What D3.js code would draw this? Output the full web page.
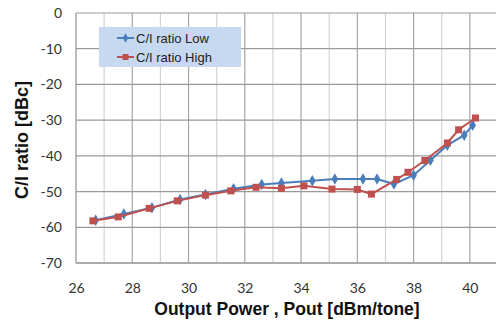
<!DOCTYPE html>
<html>
<head>
<meta charset="utf-8">
<script src="https://cdn.jsdelivr.net/npm/d3@7"></script>
<style>
  html, body { margin: 0; padding: 0; background: #fff; }
  svg { display: block; }
</style>
</head>
<body>
<div id="chart"></div>
<script>
// ── Data ──────────────────────────────────────────────────────────────────
const lowX  = [26.7, 27.7, 28.7, 29.7, 30.6, 31.6, 32.6, 33.3, 34.4, 35.2, 36.2, 36.7, 37.3, 38.0, 38.6, 39.2, 39.8, 40.1]
const lowY  = [-58.0, -56.3, -54.5, -52.2, -50.8, -49.2, -48.0, -47.6, -47.0, -46.5, -46.5, -46.5, -47.9, -45.4, -41.2, -37.0, -34.2, -31.4]
const highX = [26.6, 27.5, 28.6, 29.6, 30.6, 31.5, 32.4, 33.3, 34.1, 35.1, 36.0, 36.5, 37.4, 37.8, 38.4, 39.2, 39.6, 40.2]
const highY = [-58.2, -57.1, -54.7, -52.6, -51.0, -49.8, -48.8, -49.1, -48.4, -49.3, -49.4, -50.7, -46.6, -44.6, -41.3, -36.4, -32.7, -29.4]
const xTicks = [26, 28, 30, 32, 34, 36, 38, 40]
const yTicks = [0, -10, -20, -30, -40, -50, -60, -70]
const seriesNames = ['C/I ratio Low', 'C/I ratio High']

const W = 496, H = 328
const svg = d3.select('#chart').append('svg').attr('width', W).attr('height', H)

const x = d3.scaleLinear().domain([26, 41]).range([76, 498])
const y = d3.scaleLinear().domain([-70, 0]).range([263, 13])

// ── Grid ──────────────────────────────────────────────────────────────────
const grid = svg.append('g')
d3.range(27, 41.5, 1).forEach(v => {
  grid.append('line')
    .attr('x1', x(v)).attr('x2', x(v)).attr('y1', y(0)).attr('y2', y(-70))
    .attr('stroke', v % 2 === 0 ? '#a6a6a6' : '#d4d4d4').attr('stroke-width', 1.2)
})
yTicks.forEach(v => {
  grid.append('line')
    .attr('x1', x(26)).attr('x2', W).attr('y1', y(v)).attr('y2', y(v))
    .attr('stroke', '#9a9a9a').attr('stroke-width', 1.2)
})
// axis lines
grid.append('line').attr('x1', x(26)).attr('x2', x(26)).attr('y1', y(0)).attr('y2', y(-70)).attr('stroke', '#a0a0a0').attr('stroke-width', 1.4)
grid.append('line').attr('x1', x(26)).attr('x2', W).attr('y1', y(-70)).attr('y2', y(-70)).attr('stroke', '#a0a0a0').attr('stroke-width', 1.4)

// ── Axes labels via d3 axes ───────────────────────────────────────────────
const yAxis = svg.append('g').attr('transform', `translate(${x(26)},0)`)
  .call(d3.axisLeft(y).tickValues(yTicks).tickFormat(d => String(d)).tickSize(0).tickPadding(14))
yAxis.select('.domain').remove()
yAxis.selectAll('text').style('font-family', 'Lato, "Open Sans", sans-serif').style('font-size', '14px').attr('fill', '#333')

const xAxis = svg.append('g').attr('transform', `translate(0,${y(-70)})`)
  .call(d3.axisBottom(x).tickValues(xTicks).tickFormat(d => String(d)).tickSize(0).tickPadding(20))
xAxis.select('.domain').remove()
xAxis.selectAll('text').style('font-family', 'Lato, "Open Sans", sans-serif').style('font-size', '14px').attr('fill', '#333')

svg.append('text')
  .attr('transform', `translate(28,${y(-35) + 2}) rotate(-90)`)
  .attr('text-anchor', 'middle')
  .style('font-family', '"Liberation Sans", Arial, sans-serif').style('font-weight', 'bold').style('font-size', '18px')
  .attr('fill', '#111')
  .text('C/I ratio [dBc]')

svg.append('text')
  .attr('x', 287).attr('y', 315)
  .attr('text-anchor', 'middle')
  .style('font-family', '"Liberation Sans", Arial, sans-serif').style('font-weight', 'bold').style('font-size', '17.5px')
  .attr('fill', '#111')
  .text('Output Power , Pout [dBm/tone]')

// ── Series ────────────────────────────────────────────────────────────────
const blue = '#4a7ebb', red = '#c0504d'
const line = d3.line().x(d => x(d[0])).y(d => y(d[1]))
const lowData = lowX.map((v, i) => [v, lowY[i]])
const highData = highX.map((v, i) => [v, highY[i]])

svg.append('path').datum(lowData).attr('d', line).attr('fill', 'none').attr('stroke', blue).attr('stroke-width', 2)
svg.append('g').selectAll('path').data(lowData).join('path')
  .attr('d', d3.symbol(d3.symbolDiamond, 38))
  .attr('transform', d => `translate(${x(d[0])},${y(d[1])})`)
  .attr('fill', blue)

svg.append('path').datum(highData).attr('d', line).attr('fill', 'none').attr('stroke', red).attr('stroke-width', 2)
svg.append('g').selectAll('rect').data(highData).join('rect')
  .attr('x', d => x(d[0]) - 3.5).attr('y', d => y(d[1]) - 3.5)
  .attr('width', 7).attr('height', 7)
  .attr('fill', red)

// ── Legend ────────────────────────────────────────────────────────────────
const leg = svg.append('g')
leg.append('rect').attr('x', 99).attr('y', 27).attr('width', 142).attr('height', 40).attr('fill', '#c6d9f0')
seriesNames.forEach((name, i) => {
  const ly = 38 + i * 19
  const c = i === 0 ? blue : red
  leg.append('line').attr('x1', 117).attr('x2', 134).attr('y1', ly).attr('y2', ly).attr('stroke', c).attr('stroke-width', 2)
  if (i === 0) {
    leg.append('path').attr('d', d3.symbol(d3.symbolDiamond, 26)).attr('transform', `translate(125.5,${ly})`).attr('fill', c)
  } else {
    leg.append('rect').attr('x', 122.5).attr('y', ly - 3).attr('width', 6).attr('height', 6).attr('fill', c)
  }
  leg.append('text').attr('x', 136).attr('y', ly + 4.5)
    .style('font-family', '"Liberation Sans", Arial, sans-serif').style('font-size', '13px')
    .attr('fill', '#222').text(name)
})
</script>
</body>
</html>
